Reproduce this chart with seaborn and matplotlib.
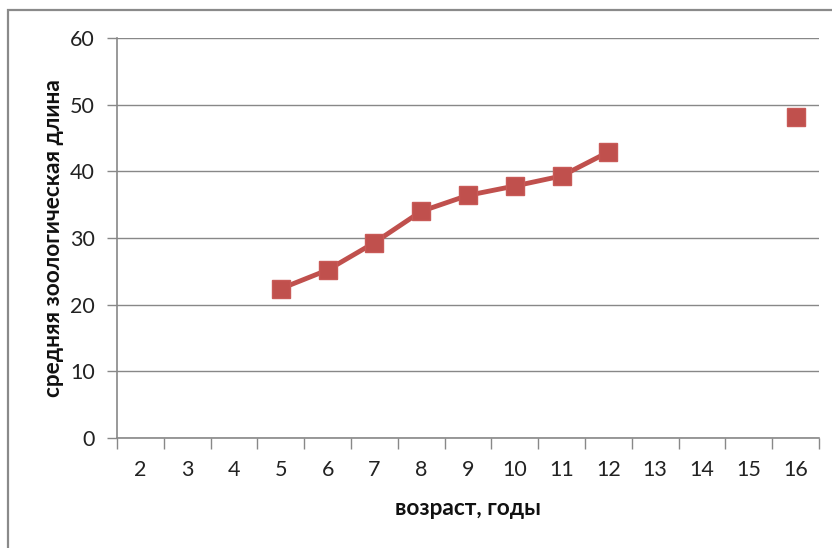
import matplotlib
matplotlib.use("Agg")
import matplotlib.pyplot as plt
import seaborn as sns
import numpy as np
import pandas as pd
from matplotlib.patches import Rectangle

ages = ["2", "3", "4", "5", "6", "7", "8", "9", "10", "11", "12", "13", "14", "15", "16"]
lengths = [np.nan, np.nan, np.nan, 22.4, 25.2, 29.3, 34.0, 36.4, 37.8, 39.3, 42.9, np.nan, np.nan, np.nan, 48.2]
x_label = "возраст, годы"
y_label = "средняя зоологическая длина"
y_ticks = [0, 10, 20, 30, 40, 50, 60]

sns.set_theme(style="white")
plt.rcParams['font.family'] = ['Lato', 'Open Sans', 'DejaVu Sans']

color = "#C0504D"
grid_c = "#888888"

df = pd.DataFrame({"pos": np.arange(len(ages)), "age": ages, "length": lengths})
# contiguous runs -> segments (gaps are not connected)
df["segment"] = df["length"].isna().cumsum()
dfp = df.dropna()

fig = plt.figure(figsize=(8.32, 5.48), dpi=100)
ax = fig.add_axes([117/832, 1-438/548, (819-117)/832, 400/548])

sns.lineplot(data=dfp, x="pos", y="length", units="segment", estimator=None,
             color=color, lw=3.5, marker="s", markersize=13.5, markeredgecolor="#C85A57",
             markeredgewidth=1, ax=ax, legend=False, zorder=3)

ax.set_xlim(-0.5, len(ages) - 0.5)
ax.set_ylim(0, 60)
ax.set_yticks(y_ticks)
ax.set_yticklabels([str(t) for t in y_ticks])
ax.yaxis.grid(True, color=grid_c, lw=1.0)
ax.set_axisbelow(True)

ax.set_xticks(np.arange(-0.5, len(ages)), minor=False)
ax.set_xticklabels([])
ax.set_xticks(np.arange(len(ages)), minor=True)
ax.set_xticklabels(ages, minor=True)
ax.tick_params(axis="x", which="major", direction="out", length=8, width=1, color=grid_c, bottom=True)
ax.tick_params(axis="x", which="minor", length=0, pad=16, labelsize=15.5, labelcolor="#222222")
ax.tick_params(axis="y", direction="out", length=7, width=1, color=grid_c, left=True, pad=9,
               labelsize=15.5, labelcolor="#222222")

for s in ["top", "right"]:
    ax.spines[s].set_visible(False)
for s in ["left", "bottom"]:
    ax.spines[s].set_color(grid_c)
    ax.spines[s].set_linewidth(1.2)

ax.set_xlabel(x_label, fontsize=16.3, fontweight="bold", color="#111111", labelpad=13)
ax.set_ylabel(y_label, fontsize=16.3, fontweight="bold", color="#111111", labelpad=4)

fig.patches.append(Rectangle((8/832, -0.1), 1.2, 1 - 10/548 + 0.1, transform=fig.transFigure,
                             fill=False, edgecolor="#8a8a8a", lw=1.6, figure=fig))

fig.savefig("out.png", dpi=100, facecolor="white")
